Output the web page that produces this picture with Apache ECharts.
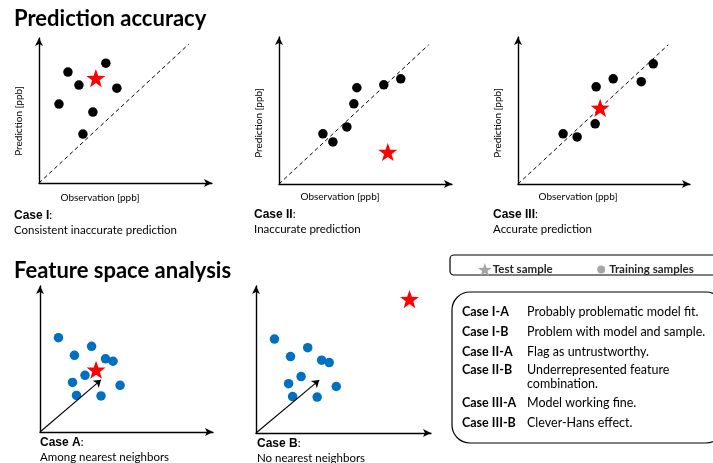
<!DOCTYPE html>
<html>
<head>
<meta charset="utf-8">
<script src="https://cdn.jsdelivr.net/npm/echarts@6/dist/echarts.min.js"></script>
<style>
  html, body { margin: 0; padding: 0; background: #fff; }
  #chart { width: 713px; height: 463px; }
</style>
</head>
<body>
<div id="chart"></div>
<script>
// Prediction vs. observation, arbitrary units (training samples and test sample)
const caseITrain = [[1.74, 7.19], [4.02, 7.77], [2.40, 6.35], [4.68, 6.15], [1.20, 5.12], [3.24, 4.60], [2.64, 3.17]];
const caseITest = [[3.42, 6.80]];
const caseIITrain = [[2.64, 3.24], [3.24, 2.72], [4.08, 3.69], [4.50, 5.18], [4.68, 6.22], [6.30, 6.41], [7.32, 6.80]];
const caseIITest = [[6.54, 2.07]];
const caseIIITrain = [[2.70, 3.24], [3.54, 3.04], [4.62, 3.89], [4.68, 6.28], [5.70, 6.80], [7.38, 6.61], [8.10, 7.77]];
const caseIIITest = [[4.92, 4.92]];
const identityLine = [[0, 0], [9, 9]];

// Feature space, arbitrary units
const featureTrain = [[1.15, 5.88], [3.22, 5.34], [2.15, 4.78], [4.09, 4.56], [4.56, 4.41], [2.81, 3.53], [2.03, 3.09], [5.00, 2.91], [2.28, 2.28], [3.81, 2.25]];
const caseATest = [[3.50, 3.88]];
const caseBTest = [[9.56, 8.38]];
const caseAVector = [[0, 0], [3.81, 3.25]];
const caseBVector = [[0, 0], [3.94, 3.31]];

// Interpretation table
const tableCases = ['Case I-A', 'Case I-B', 'Case II-A', 'Case II-B', 'Case III-A', 'Case III-B'];
const tableNotes = ['Probably problematic model fit.', 'Problem with model and sample.', 'Flag as untrustworthy.', 'Underrepresented feature\ncombination.', 'Model working fine.', 'Clever-Hans effect.'];

const FONT = 'Lato, "Open Sans", sans-serif';
const STAR = 'path://M0,-10 L2.35,-3.24 L9.51,-3.09 L3.8,1.24 L5.88,8.09 L0,4 L-5.88,8.09 L-3.8,1.24 L-9.51,-3.09 L-2.35,-3.24 Z';
// small dot centred in a wider (invisible) box, so the legend icon stays small
const SMALL_DOT = 'path://M-6.5,-6.5 M6.5,6.5 M-4,0 A4,4 0 1 1 4,0 A4,4 0 1 1 -4,0 Z';
const BLUE = '#0070c0';
const RED = '#ff0000';

const grids = [
  { left: 39, top: 38, width: 173, height: 145 },
  { left: 279, top: 37, width: 173, height: 147 },
  { left: 518, top: 37, width: 172, height: 147 },
  { left: 40, top: 286, width: 173, height: 146 },
  { left: 256, top: 286, width: 175, height: 147 }
];
const xMax = [10.4, 10.4, 10.3, 10.8, 10.9];
const yMax = [9.4, 9.5, 9.5, 9.1, 9.2];

function axisBase(extra) {
  return Object.assign({
    type: 'value',
    min: 0,
    splitLine: { show: false },
    axisTick: { show: false },
    axisLabel: { show: false },
    axisLine: {
      show: true,
      symbol: ['none', 'arrow'],
      symbolSize: [6, 8],
      lineStyle: { color: '#000', width: 1.4 }
    }
  }, extra);
}

const xAxes = grids.map((g, i) => axisBase({ gridIndex: i, max: xMax[i] }));
const yAxes = grids.map((g, i) => axisBase({ gridIndex: i, max: yMax[i] }));

function dots(idx, data, color) {
  return {
    name: 'Training samples', type: 'scatter', xAxisIndex: idx, yAxisIndex: idx,
    data: data, symbol: 'circle', symbolSize: 9.5, z: 3,
    itemStyle: { color: color, opacity: 1 }, silent: true
  };
}
function star(idx, data) {
  return {
    name: 'Test sample', type: 'scatter', xAxisIndex: idx, yAxisIndex: idx,
    data: data, symbol: STAR, symbolSize: 19, symbolKeepAspect: true, z: 5,
    itemStyle: { color: RED, opacity: 1 }, silent: true
  };
}
function diag(idx) {
  return {
    type: 'line', xAxisIndex: idx, yAxisIndex: idx, data: identityLine,
    symbol: 'none', silent: true, z: 2,
    lineStyle: { color: '#000', width: 1, type: [4, 3] }
  };
}
function vector(idx, coords) {
  return {
    type: 'lines', coordinateSystem: 'cartesian2d', xAxisIndex: idx, yAxisIndex: idx,
    data: [{ coords: coords }], symbol: ['none', 'arrow'], symbolSize: 7, z: 4, silent: true,
    lineStyle: { color: '#000', width: 1.1, opacity: 1 }
  };
}

const series = [
  diag(0), dots(0, caseITrain, '#000'), star(0, caseITest),
  diag(1), dots(1, caseIITrain, '#000'), star(1, caseIITest),
  diag(2), dots(2, caseIIITrain, '#000'), star(2, caseIIITest),
  vector(3, caseAVector), dots(3, featureTrain, BLUE), star(3, caseATest),
  vector(4, caseBVector), dots(4, featureTrain, BLUE), star(4, caseBTest)
];

function txt(x, y, text, opts) {
  return {
    type: 'text', x: x, y: y, silent: true,
    style: Object.assign({ text: text, fill: '#000', font: '12px ' + FONT, verticalAlign: 'middle' }, opts || {})
  };
}
function caption(x, y, label, desc) {
  return {
    type: 'text', x: x, y: y, silent: true,
    style: {
      text: '{b|' + label + '}:\n' + desc,
      font: '11.5px ' + FONT, fill: '#000', lineHeight: 15,
      rich: { b: { fontWeight: 'bold', font: 'bold 11.5px ' + FONT, fill: '#000' } }
    }
  };
}
function yName(x, y) {
  return { type: 'text', x: x, y: y, rotation: Math.PI / 2, silent: true,
    style: { text: 'Prediction [ppb]', font: '10px ' + FONT, fill: '#000', align: 'center', verticalAlign: 'middle' } };
}

const graphics = [
  txt(14, 19, 'Prediction accuracy', { font: 'bold 22px ' + FONT }),
  txt(14, 271, 'Feature space analysis', { font: 'bold 22px ' + FONT }),
  // axis names of the three prediction panels
  txt(100, 198, 'Observation [ppb]', { font: '10px ' + FONT, align: 'center' }),
  txt(340, 197, 'Observation [ppb]', { font: '10px ' + FONT, align: 'center' }),
  txt(578, 197, 'Observation [ppb]', { font: '10px ' + FONT, align: 'center' }),
  yName(19, 121), yName(259, 123), yName(498, 123),
  caption(14, 208, 'Case I', 'Consistent inaccurate prediction'),
  caption(254, 207, 'Case II', 'Inaccurate prediction'),
  caption(493, 207, 'Case III', 'Accurate prediction'),
  caption(40, 435, 'Case A', 'Among nearest neighbors'),
  caption(257, 436, 'Case B', 'No nearest neighbors'),
  // legend frame
  { type: 'rect', silent: true, shape: { x: 450, y: 255, width: 275, height: 20, r: 4 },
    style: { fill: 'none', stroke: '#000', lineWidth: 1.2 } },
  // table frame
  { type: 'rect', silent: true, shape: { x: 452, y: 292, width: 272, height: 151, r: 18 },
    style: { fill: 'none', stroke: '#000', lineWidth: 1.2 } }
];

const rowY = [312, 332, 352, 370, 403, 423];
tableCases.forEach((c, i) => {
  graphics.push(txt(462, rowY[i], c, { font: 'bold 12.5px ' + FONT }));
  graphics.push({
    type: 'text', x: 527, y: rowY[i] - 7.5, silent: true,
    style: { text: tableNotes[i], font: '12.5px ' + FONT, fill: '#000', lineHeight: 14 }
  });
});

const chart = echarts.init(document.getElementById('chart'), null, { renderer: 'canvas' });
chart.setOption({
  animation: false,
  backgroundColor: '#fff',
  grid: grids,
  xAxis: xAxes,
  yAxis: yAxes,
  legend: {
    left: 473, top: 258, itemGap: 42, itemWidth: 14, itemHeight: 13,
    selectedMode: false,
    textStyle: { fontFamily: FONT, fontSize: 11.5, fontWeight: 'bold', color: '#262626', padding: [0, 0, 0, -4] },
    data: [
      { name: 'Test sample', icon: STAR, itemStyle: { color: '#a6a6a6' } },
      { name: 'Training samples', icon: SMALL_DOT, itemStyle: { color: '#a6a6a6' } }
    ]
  },
  series: series,
  graphic: graphics
});
</script>
</body>
</html>
